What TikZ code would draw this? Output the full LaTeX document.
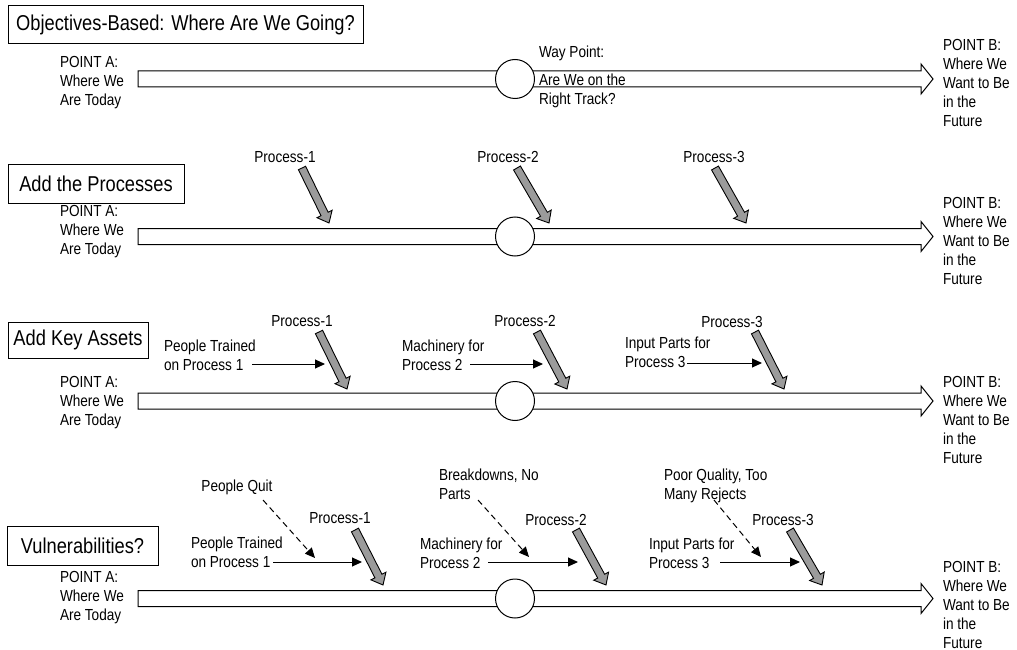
\documentclass[tikz,border=0pt]{standalone}
\usepackage{fontspec}
\setmainfont{Liberation Sans}[FakeStretch=0.85]
\usetikzlibrary{shapes.arrows,calc,arrows.meta}

\definecolor{procgray}{RGB}{155,155,155}

\tikzset{
  every node/.style={inner sep=0pt, outer sep=0pt},
  txt/.style={font=\fontsize{16}{19}\selectfont, align=left, anchor=north west},
  lbl/.style={font=\fontsize{16}{19}\selectfont},
  headline/.style={draw, line width=1pt, font=\fontsize{21.5}{26}\selectfont, anchor=north west},
  trackbar/.style={draw, line width=1pt, fill=white},
  waypt/.style={circle, draw, line width=1pt, fill=white, minimum size=39pt},
  fatarr/.style={single arrow, draw, line width=0.9pt, fill=procgray,
    single arrow head extend=4.5pt, single arrow tip angle=80,
    inner xsep=0pt, inner ysep=3.5pt, minimum width=16pt},
  feed/.style={-{Triangle[length=10pt,width=9pt]}, line width=1pt},
  risk/.style={feed, dash pattern=on 6pt off 4pt},
}

% hollow road arrow from point A to point B with a way-point circle
\newcommand\roadtrack[2]{%
  \draw[trackbar] (138,#2-8) -- (921,#2-8) -- (921,#2-15) -- (933,#2)
    -- (921,#2+15) -- (921,#2+8) -- (138,#2+8) -- cycle;
  \node[waypt] (#1) at (515,#2) {};
}

% grey block arrow from a tail coordinate to a tip coordinate
\newcommand\fatarrow[2]{%
  \path let \p1=($(#2)-(#1)$), \n1={atan2(\y1,\x1)}, \n2={veclen(\x1,\y1)} in
    node[fatarr, minimum height=\n2, rotate=\n1, anchor=tail] at (#1) {};
}

\begin{document}
\begin{tikzpicture}[x=1pt, y=-1pt]
\path[use as bounding box] (0,0) rectangle (1017,650);

% ---------------- row 1: objectives ----------------
\node[headline, minimum width=355pt, minimum height=38pt] (t1) at (8,6)
  {Objectives-Based: Where Are We Going?};
\node[txt] (a1) at (60,56) {POINT A:\\Where We\\Are Today};
\roadtrack{w1}{79}
\node[txt] (b1) at (943,39) {POINT B:\\Where We\\Want to Be\\in the\\Future};
\node[txt] (wp) at (539,46) {Way Point:};
\node[txt] (rt) at (539,74) {Are We on the\\Right Track?};

% ---------------- row 2: processes ----------------
\node[headline, minimum width=176pt, minimum height=39pt] (t2) at (8,164)
  {Add the Processes};
\node[txt] (a2) at (60,205) {POINT A:\\Where We\\Are Today};
\roadtrack{w2}{236.5}
\node[txt] (b2) at (943,197) {POINT B:\\Where We\\Want to Be\\in the\\Future};
\node[lbl] (p21) at (285,157) {Process-1};
\node[lbl] (p22) at (508,157) {Process-2};
\node[lbl] (p23) at (714,157) {Process-3};
\coordinate (p21s) at (302,168); \coordinate (p21e) at (329,223);
\coordinate (p22s) at (517,168); \coordinate (p22e) at (549,223);
\coordinate (p23s) at (715,168); \coordinate (p23e) at (746,223);
\fatarrow{p21s}{p21e}
\fatarrow{p22s}{p22e}
\fatarrow{p23s}{p23e}

% ---------------- row 3: key assets ----------------
\node[headline, minimum width=140pt, minimum height=36pt] (t3) at (8,322)
  {Add Key Assets};
\node[txt] (a3) at (60,376) {POINT A:\\Where We\\Are Today};
\roadtrack{w3}{401}
\node[txt] (b3) at (943,376) {POINT B:\\Where We\\Want to Be\\in the\\Future};
\node[lbl] (p31) at (302,321) {Process-1};
\node[lbl] (p32) at (525,321) {Process-2};
\node[lbl] (p33) at (732,322) {Process-3};
\coordinate (p31s) at (319,332); \coordinate (p31e) at (347,389);
\coordinate (p32s) at (537,332); \coordinate (p32e) at (567,389);
\coordinate (p33s) at (755,332); \coordinate (p33e) at (784,389);
\fatarrow{p31s}{p31e}
\fatarrow{p32s}{p32e}
\fatarrow{p33s}{p33e}
\node[txt] (k31) at (164,340) {People Trained\\on Process 1};
\node[txt] (k32) at (402,340) {Machinery for\\Process 2};
\node[txt] (k33) at (625,337) {Input Parts for\\Process 3};
\coordinate (k31s) at (252,364); \coordinate (k31e) at (325,364);
\coordinate (k32s) at (470,364); \coordinate (k32e) at (543,364);
\coordinate (k33s) at (687,363); \coordinate (k33e) at (762,363);
\draw[feed] (k31s) -- (k31e);
\draw[feed] (k32s) -- (k32e);
\draw[feed] (k33s) -- (k33e);

% ---------------- row 4: vulnerabilities ----------------
\node[headline, minimum width=151pt, minimum height=39pt] (t4) at (7,526)
  {Vulnerabilities?};
\node[txt] (a4) at (60,571) {POINT A:\\Where We\\Are Today};
\roadtrack{w4}{598.5}
\node[txt] (b4) at (943,561) {POINT B:\\Where We\\Want to Be\\in the\\Future};
\node[lbl] (p41) at (340,518) {Process-1};
\node[lbl] (p42) at (556,520) {Process-2};
\node[lbl] (p43) at (783,520) {Process-3};
\coordinate (p41s) at (355,530); \coordinate (p41e) at (383,585);
\coordinate (p42s) at (576,530); \coordinate (p42e) at (606,585);
\coordinate (p43s) at (790,530); \coordinate (p43e) at (822,585);
\fatarrow{p41s}{p41e}
\fatarrow{p42s}{p42e}
\fatarrow{p43s}{p43e}
\node[txt] (k41) at (191,537) {People Trained\\on Process 1};
\node[txt] (k42) at (420,538) {Machinery for\\Process 2};
\node[txt] (k43) at (649,538) {Input Parts for\\Process 3};
\coordinate (k41s) at (273,562); \coordinate (k41e) at (362,562);
\coordinate (k42s) at (488,562); \coordinate (k42e) at (578,562);
\coordinate (k43s) at (720,562); \coordinate (k43e) at (800,562);
\draw[feed] (k41s) -- (k41e);
\draw[feed] (k42s) -- (k42e);
\draw[feed] (k43s) -- (k43e);
\node[lbl] (v41) at (237,487) {People Quit};
\node[txt] (v42) at (439,469) {Breakdowns, No\\Parts};
\node[txt] (v43) at (664,469) {Poor Quality, Too\\Many Rejects};
\coordinate (v41s) at (263,500); \coordinate (v41e) at (315,558);
\coordinate (v42s) at (478,500); \coordinate (v42e) at (529,557);
\coordinate (v43s) at (714,500); \coordinate (v43e) at (761,557);
\draw[risk] (v41s) -- (v41e);
\draw[risk] (v42s) -- (v42e);
\draw[risk] (v43s) -- (v43e);
\end{tikzpicture}
\end{document}
